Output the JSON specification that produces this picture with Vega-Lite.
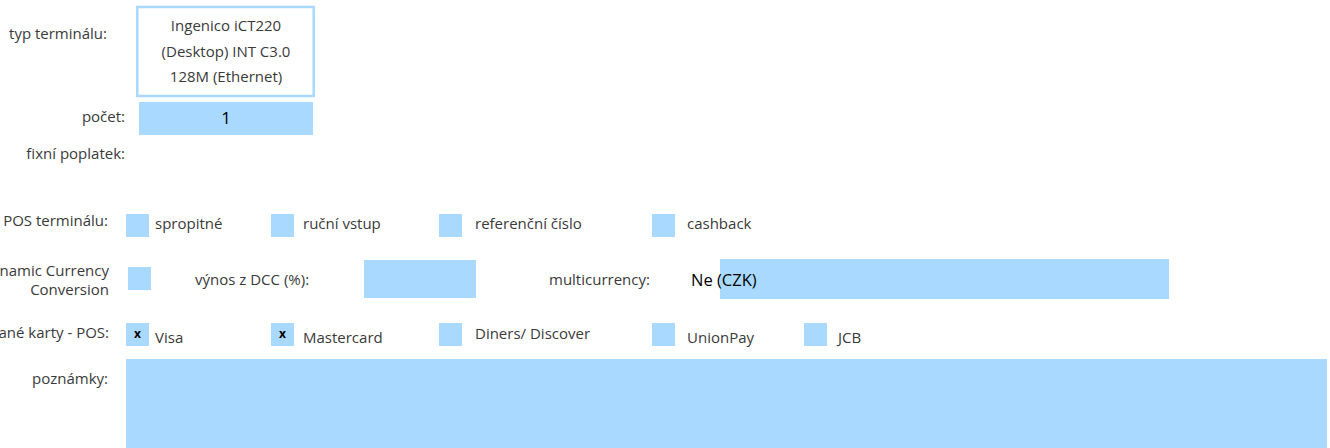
{
  "$schema": "https://vega.github.io/schema/vega-lite/v6.json",
  "width": 1330,
  "height": 448,
  "padding": 0,
  "autosize": {"type": "none"},
  "background": "white",
  "config": {"view": {"stroke": null}, "font": "Open Sans"},
  "datasets": {
    "filled": [
      {"name": "pocet", "left": 139, "right": 313, "top": 102, "bottom": 135},
      {"name": "spropitne", "left": 126, "right": 149, "top": 214, "bottom": 237},
      {"name": "rucni", "left": 271, "right": 294, "top": 214, "bottom": 237},
      {"name": "referencni", "left": 439, "right": 462, "top": 214, "bottom": 237},
      {"name": "cashback", "left": 652, "right": 675, "top": 214, "bottom": 237},
      {"name": "dcc", "left": 128, "right": 151, "top": 267, "bottom": 290},
      {"name": "vynos", "left": 364, "right": 476, "top": 260, "bottom": 298},
      {"name": "multicurrency", "left": 720, "right": 1169, "top": 259, "bottom": 299},
      {"name": "visa", "left": 126, "right": 149, "top": 323, "bottom": 346},
      {"name": "mastercard", "left": 271, "right": 294, "top": 323, "bottom": 346},
      {"name": "diners", "left": 439, "right": 462, "top": 323, "bottom": 346},
      {"name": "unionpay", "left": 652, "right": 675, "top": 323, "bottom": 346},
      {"name": "jcb", "left": 804, "right": 827, "top": 323, "bottom": 346},
      {"name": "poznamky", "left": 126, "right": 1327, "top": 359, "bottom": 448}
    ],
    "outlined": [
      {"name": "typ", "left": 137.3, "right": 313.7, "top": 7, "bottom": 96}
    ],
    "labelsRight": [
      {"text": "typ terminálu:", "px": 107, "py": 34},
      {"text": "počet:", "px": 125, "py": 117},
      {"text": "fixní poplatek:", "px": 125, "py": 154},
      {"text": "POS terminálu:", "px": 108, "py": 221},
      {"text": "namic Currency", "px": 109, "py": 271},
      {"text": "Conversion", "px": 109, "py": 290},
      {"text": "ané karty - POS:", "px": 109, "py": 333},
      {"text": "poznámky:", "px": 108, "py": 379}
    ],
    "labelsLeft": [
      {"text": "spropitné", "px": 155, "py": 224},
      {"text": "ruční vstup", "px": 303, "py": 224},
      {"text": "referenční číslo", "px": 475, "py": 224},
      {"text": "cashback", "px": 687, "py": 224},
      {"text": "výnos z DCC (%):", "px": 195, "py": 280},
      {"text": "multicurrency:", "px": 549, "py": 280},
      {"text": "Visa", "px": 155, "py": 338},
      {"text": "Mastercard", "px": 303, "py": 338},
      {"text": "Diners/ Discover", "px": 475, "py": 334},
      {"text": "UnionPay", "px": 687, "py": 338},
      {"text": "JCB", "px": 838, "py": 338}
    ],
    "labelsCenter": [
      {"text": "Ingenico iCT220", "px": 226, "py": 26},
      {"text": "(Desktop) INT C3.0", "px": 226, "py": 52},
      {"text": "128M (Ethernet)", "px": 226, "py": 77}
    ],
    "values": [
      {"text": "1", "px": 226, "py": 119, "anchor": "center"},
      {"text": "Ne (CZK)", "px": 691, "py": 281, "anchor": "left"}
    ],
    "checks": [
      {"text": "x", "px": 137.5, "py": 334},
      {"text": "x", "px": 282.5, "py": 334}
    ]
  },
  "layer": [
    {
      "data": {"name": "filled"},
      "mark": {"type": "rect", "fill": "#a9d9fe"},
      "encoding": {
        "x": {"field": "left", "type": "quantitative", "scale": {"domain": [0, 1330], "range": [0, 1330]}, "axis": null},
        "x2": {"field": "right"},
        "y": {"field": "top", "type": "quantitative", "scale": {"domain": [0, 448], "range": [0, 448]}, "axis": null},
        "y2": {"field": "bottom"}
      }
    },
    {
      "data": {"name": "outlined"},
      "mark": {"type": "rect", "fill": "white", "stroke": "#a9d9fe", "strokeWidth": 2.5},
      "encoding": {
        "x": {"field": "left", "type": "quantitative", "scale": {"domain": [0, 1330], "range": [0, 1330]}, "axis": null},
        "x2": {"field": "right"},
        "y": {"field": "top", "type": "quantitative", "scale": {"domain": [0, 448], "range": [0, 448]}, "axis": null},
        "y2": {"field": "bottom"}
      }
    },
    {
      "data": {"name": "labelsRight"},
      "mark": {"type": "text", "align": "right", "baseline": "middle", "fontSize": 15, "color": "#3a3a3a"},
      "encoding": {
        "x": {"field": "px", "type": "quantitative", "scale": {"domain": [0, 1330], "range": [0, 1330]}, "axis": null},
        "y": {"field": "py", "type": "quantitative", "scale": {"domain": [0, 448], "range": [0, 448]}, "axis": null},
        "text": {"field": "text"}
      }
    },
    {
      "data": {"name": "labelsLeft"},
      "mark": {"type": "text", "align": "left", "baseline": "middle", "fontSize": 15, "color": "#3a3a3a"},
      "encoding": {
        "x": {"field": "px", "type": "quantitative", "scale": {"domain": [0, 1330], "range": [0, 1330]}, "axis": null},
        "y": {"field": "py", "type": "quantitative", "scale": {"domain": [0, 448], "range": [0, 448]}, "axis": null},
        "text": {"field": "text"}
      }
    },
    {
      "data": {"name": "labelsCenter"},
      "mark": {"type": "text", "align": "center", "baseline": "middle", "fontSize": 15, "color": "#3a3a3a"},
      "encoding": {
        "x": {"field": "px", "type": "quantitative", "scale": {"domain": [0, 1330], "range": [0, 1330]}, "axis": null},
        "y": {"field": "py", "type": "quantitative", "scale": {"domain": [0, 448], "range": [0, 448]}, "axis": null},
        "text": {"field": "text"}
      }
    },
    {
      "data": {"name": "values"},
      "transform": [{"filter": "datum.anchor == 'center'"}],
      "mark": {"type": "text", "align": "center", "baseline": "middle", "fontSize": 17, "color": "black"},
      "encoding": {
        "x": {"field": "px", "type": "quantitative", "scale": {"domain": [0, 1330], "range": [0, 1330]}, "axis": null},
        "y": {"field": "py", "type": "quantitative", "scale": {"domain": [0, 448], "range": [0, 448]}, "axis": null},
        "text": {"field": "text"}
      }
    },
    {
      "data": {"name": "values"},
      "transform": [{"filter": "datum.anchor == 'left'"}],
      "mark": {"type": "text", "align": "left", "baseline": "middle", "fontSize": 16.5, "color": "black"},
      "encoding": {
        "x": {"field": "px", "type": "quantitative", "scale": {"domain": [0, 1330], "range": [0, 1330]}, "axis": null},
        "y": {"field": "py", "type": "quantitative", "scale": {"domain": [0, 448], "range": [0, 448]}, "axis": null},
        "text": {"field": "text"}
      }
    },
    {
      "data": {"name": "checks"},
      "mark": {"type": "text", "align": "center", "baseline": "middle", "fontSize": 12, "fontWeight": "bold", "color": "black"},
      "encoding": {
        "x": {"field": "px", "type": "quantitative", "scale": {"domain": [0, 1330], "range": [0, 1330]}, "axis": null},
        "y": {"field": "py", "type": "quantitative", "scale": {"domain": [0, 448], "range": [0, 448]}, "axis": null},
        "text": {"field": "text"}
      }
    }
  ]
}
